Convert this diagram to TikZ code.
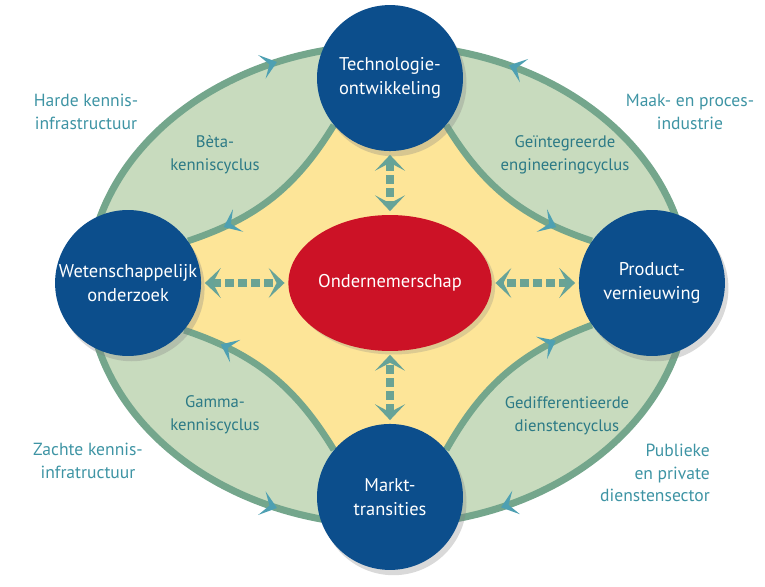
\documentclass[tikz,border=0pt]{standalone}
\usepackage{fontspec}
\setmainfont{PT Sans}
\usepackage{xcolor}
\usepackage{tikz}
\usetikzlibrary{arrows.meta,positioning,shadows,shapes.geometric,backgrounds,decorations.markings}
\definecolor{kringblauw}{RGB}{12,78,140}
\definecolor{ondrood}{RGB}{204,18,38}
\definecolor{geelvlak}{RGB}{253,229,152}
\definecolor{groenvlak}{RGB}{200,219,190}
\definecolor{groenlijn}{RGB}{116,166,140}
\definecolor{stippelgroen}{RGB}{106,163,148}
\definecolor{pijlteal}{RGB}{78,160,178}
\definecolor{labelteal}{RGB}{44,122,134}
\definecolor{buitenteal}{RGB}{62,148,164}
\tikzset{
	node distance=4cm,
	on grid,
	chev/.tip={Stealth[length=9pt,width=14pt,inset=4.5pt,color=pijlteal]},
	dchev/.tip={Stealth[length=9pt,width=17pt,inset=4.5pt,color=stippelgroen!85!pijlteal]},
	kring/.style={circle, fill=kringblauw, minimum size=2.92cm, inner sep=0pt,
		text=white, align=center, font=\fontsize{10.5}{13.7}\selectfont,
		drop shadow={shadow xshift=2pt, shadow yshift=-3pt, opacity=0.3}},
	ondernemer/.style={ellipse, fill=ondrood, minimum width=3.44cm, minimum height=2.72cm,
		inner sep=0pt, text=white, font=\fontsize{10.5}{13}\selectfont,
		drop shadow={shadow xshift=2pt, shadow yshift=-2pt, opacity=0.25}},
	cyclus/.style={text=labelteal, align=center, font=\fontsize{9.5}{13}\selectfont},
	sector/.style={text=buitenteal, font=\fontsize{10}{13}\selectfont},
	buiten/.style={draw=groenlijn, line width=4pt},
	binnen/.style={draw=groenlijn, line width=3.8pt},
	pijl/.style={postaction={decorate, decoration={markings,
		mark=at position #1 with {\arrow{chev}}}}},
	stippel/.style={draw=stippelgroen, line width=4.8pt, dash pattern=on 5pt off 2.4pt,
		dchev-dchev, shorten <=2pt, shorten >=2pt},
}

\begin{document}
\begin{tikzpicture}[x=0.02cm, y=0.02cm]
	\useasboundingbox (0,0) rectangle (765,-587);

	% centrum en de vier cycli-knopen
	\node[ondernemer] (onder) at (390,-283) {Ondernemerschap};
	\node[kring, above=4.1cm of onder] (tech) {Technologie-\\ontwikkeling};
	\node[kring, below=4.28cm of onder] (markt) {Markt-\\transities};
	\node[kring, left=5.24cm of onder] (weten) {Wetenschappelijk\\onderzoek};
	\node[kring, right=5.24cm of onder] (prod) {Product-\\vernieuwing};

	% hoekpunten van de grote ellips
	\coordinate (eN) at (388,-45);
	\coordinate (eW) at (88,-285);
	\coordinate (eS) at (388,-525);
	\coordinate (eE) at (688,-285);

	\begin{scope}[on background layer]
		\fill[groenvlak] (388,-285) ellipse[x radius=300, y radius=240];
		\draw[buiten, pijl=0.735] (eW) arc[start angle=180, end angle=90, x radius=300, y radius=240];
		\draw[buiten, pijl=0.71] (eE) arc[start angle=0, end angle=90, x radius=300, y radius=240];
		\draw[buiten, pijl=0.735] (eW) arc[start angle=180, end angle=270, x radius=300, y radius=240];
		\draw[buiten, pijl=0.73] (eE) arc[start angle=360, end angle=270, x radius=300, y radius=240];

		% gele kern
		\fill[geelvlak] (tech.220) to[bend left=20] (weten.35) -- (weten.320)
			to[bend left=20] (markt.140) -- (markt.40)
			to[bend left=20] (prod.215) -- (prod.145)
			to[bend left=20] (tech.320) -- cycle;

		\draw[binnen, pijl=0.8] (tech.220) to[bend left=20] (weten.35);
		\draw[binnen, pijl=0.8] (tech.320) to[bend right=20] (prod.145);
		\draw[binnen, pijl=0.8] (markt.140) to[bend right=20] (weten.320);
		\draw[binnen, pijl=0.8] (markt.40) to[bend left=20] (prod.215);
	\end{scope}

	\draw[stippel] (weten) -- (onder);
	\draw[stippel] (prod) -- (onder);
	\draw[stippel] (tech) -- (onder);
	\draw[stippel] (markt) -- (onder);

	% labels
	\node[cyclus] (beta) at (215,-155) {Bèta-\\kenniscyclus};
	\node[cyclus] (geint) at (565,-155) {Geïntegreerde\\engineeringcyclus};
	\node[cyclus] (gamma) at (215,-415) {Gamma-\\kenniscyclus};
	\node[cyclus] (gedif) at (567,-416) {Gedifferentieerde\\dienstencyclus};

	\node[sector, align=center] (harde) at (86,-112) {Harde kennis-\\infrastructuur};
	\node[sector, align=center] (maak) at (690,-112) {Maak- en proces-\\industrie};
	\node[sector, align=center] (zachte) at (88,-461) {Zachte kennis-\\infratructuur};
	\node[sector, align=right, anchor=east] (publiek) at (716,-473) {Publieke\\en private\\dienstensector};
\end{tikzpicture}
\end{document}
